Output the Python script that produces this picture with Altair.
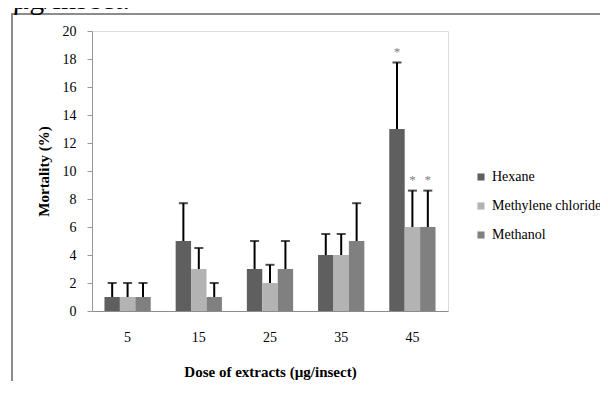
import altair as alt
import pandas as pd

doses = ["5", "15", "25", "35", "45"]
series = ["Hexane", "Methylene chloride", "Methanol"]
colors = ["#5f5f5f", "#b3b3b3", "#808080"]

hexane = [1, 5, 3, 4, 13]
methylene = [1, 3, 2, 4, 6]
methanol = [1, 1, 3, 5, 6]

hexane_upper = [2, 7.7, 5, 5.5, 17.75]
methylene_upper = [2, 4.5, 3.3, 5.5, 8.6]
methanol_upper = [2, 2, 5, 7.7, 8.6]

hexane_sig = ["", "", "", "", "*"]
methylene_sig = ["", "", "", "", "*"]
methanol_sig = ["", "", "", "", "*"]

y_ticks = [0, 2, 4, 6, 8, 10, 12, 14, 16, 18, 20]

rows = []
for name, vals, ups, sigs in [
    ("Hexane", hexane, hexane_upper, hexane_sig),
    ("Methylene chloride", methylene, methylene_upper, methylene_sig),
    ("Methanol", methanol, methanol_upper, methanol_sig),
]:
    for d, v, u, s in zip(doses, vals, ups, sigs):
        rows.append({"dose": d, "series": name, "value": v, "upper": u, "sig": s})
df = pd.DataFrame(rows)

FONT = "Liberation Serif"

x_enc = alt.X(
    "dose:N",
    sort=doses,
    scale=alt.Scale(paddingInner=0.35, paddingOuter=0.175),
    axis=alt.Axis(
        title="Dose of extracts (µg/insect)",
        labelAngle=0,
        ticks=False,
        labelPadding=19,
        titlePadding=20,
        labelFont=FONT,
        labelFontSize=14,
        labelColor="black",
        titleFont=FONT,
        titleFontSize=15,
        titleFontWeight="bold",
        titleColor="black",
        domainColor="#8c8c8c",
        domainWidth=1,
    ),
)
xo_enc = alt.XOffset("series:N", sort=series, scale=alt.Scale(paddingInner=0, paddingOuter=0))

y_scale = alt.Scale(domain=[0, 20], nice=False, zero=True)
y_axis = alt.Axis(
    title="Mortality (%)",
    values=y_ticks,
    tickCount=11,
    labelOverlap=False,
    grid=False,
    tickSize=5,
    tickColor="#999999",
    domainColor="#999999",
    labelPadding=11,
    titlePadding=11,
    labelFont=FONT,
    labelFontSize=14,
    labelColor="black",
    titleFont=FONT,
    titleFontSize=15,
    titleFontWeight="bold",
    titleColor="black",
)

base = alt.Chart(df)

bars = base.mark_bar().encode(
    x=x_enc,
    xOffset=xo_enc,
    y=alt.Y("value:Q", scale=y_scale, axis=y_axis),
    color=alt.Color(
        "series:N",
        sort=series,
        scale=alt.Scale(domain=series, range=colors),
        legend=alt.Legend(
            title=None,
            orient="none",
            legendX=382,
            legendY=139,
            symbolType="square",
            symbolSize=50,
            symbolStrokeWidth=0,
            labelFont=FONT,
            labelFontSize=14,
            labelColor="black",
            rowPadding=15,
            labelOffset=4,
        ),
    ),
)

err = base.mark_rule(color="black", strokeWidth=2).encode(
    x=x_enc, xOffset=xo_enc,
    y=alt.Y("value:Q", scale=y_scale, axis=y_axis), y2="upper:Q"
)
caps = base.mark_tick(color="black", thickness=2, size=9, orient="horizontal").encode(
    x=x_enc, xOffset=xo_enc, y=alt.Y("upper:Q", scale=y_scale, axis=y_axis)
)
stars = base.transform_filter(alt.datum.sig != "").mark_text(
    font=FONT, fontSize=13, color="#808080", baseline="bottom", dy=-4
).encode(x=x_enc, xOffset=xo_enc, y=alt.Y("upper:Q", scale=y_scale, axis=y_axis), text="sig:N")

one = pd.DataFrame({"k": [0]})
frame_left = alt.Chart(one).mark_rule(color="#8c8c8c", strokeWidth=2).encode(
    x=alt.value(-80), y=alt.value(-17), y2=alt.value(360)
)
frame_top = alt.Chart(one).mark_rule(color="#8c8c8c", strokeWidth=2).encode(
    x=alt.value(-81), x2=alt.value(530), y=alt.value(-17)
)
top_text = alt.Chart(one).mark_text(
    text="µg/insect.", align="left", baseline="alphabetic", fontSize=30, font=FONT, color="black"
).encode(x=alt.value(-80), y=alt.value(-22))

chart = (
    alt.layer(bars, err, caps, stars, frame_left, frame_top, top_text)
    .properties(
        width=356,
        height=280,
        autosize=alt.AutoSizeParams(type="none"),
        padding={"left": 84, "top": 23, "right": 152, "bottom": 70},
    )
    .configure_view(stroke=None)
    .configure_axis(labelOverlap=False)
    .configure_legend(labelFont=FONT, labelFontSize=14)
    .configure(background="white")
)

chart.save("out.html", embed_options={"renderer": "svg", "actions": False})
